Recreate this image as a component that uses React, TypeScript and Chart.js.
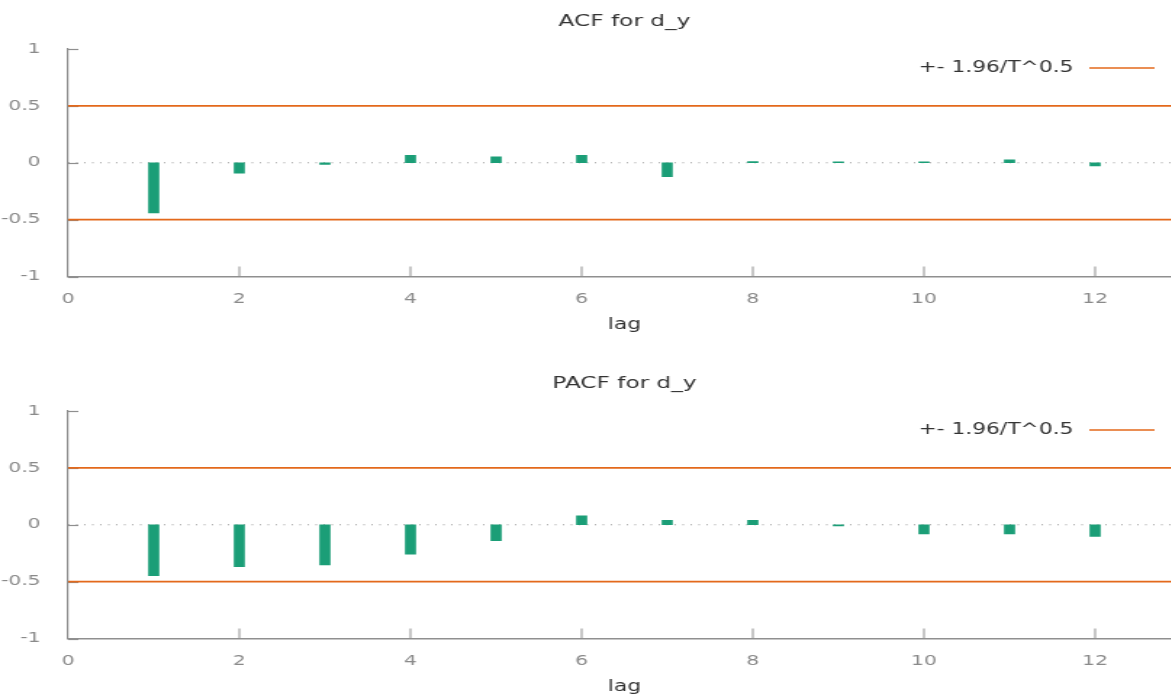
import React, { useEffect, useRef } from "react";
import { Chart, registerables } from "chart.js";

Chart.register(...registerables);

// ---- data ----
const lags = [1, 2, 3, 4, 5, 6, 7, 8, 9, 10, 11, 12];
const acfValues = [-0.44, -0.092, -0.015, 0.066, 0.051, 0.066, -0.122, 0.01, 0.008, 0.008, 0.025, -0.028];
const pacfValues = [-0.447, -0.368, -0.353, -0.259, -0.141, 0.079, 0.038, 0.038, -0.01, -0.08, -0.08, -0.103];
const bandX = [0, 13];
const bandUpper = [0.5, 0.5];
const bandLower = [-0.5, -0.5];
const zeroLine = [0, 0];
const xTicks = [0, 2, 4, 6, 8, 10, 12];
const yTicks = [-1, -0.5, 0, 0.5, 1];
const legendLabel = "+- 1.96/T^0.5";
const xLabel = "lag";
const acfTitle = "ACF for d_y";
const pacfTitle = "PACF for d_y";

// ---- style ----
const SX = 1.45; // horizontal stretch of the reference picture
const W = 828;
const H = 362;
const GREEN = "#1b9e77";
const ORANGE = "#e3691b";
const AXIS = "#8f8f8f";
const TICK_TEXT = "#8a8a8a";
const TEXT = "#333333";
const FONT = "'DejaVu Sans', Verdana, sans-serif";

function makeDecor(title: string) {
  return {
    id: "gretlDecor",
    beforeDatasetsDraw(chart: any) {
      const { ctx, chartArea, scales } = chart;
      const x = scales.x;
      const y = scales.y;
      ctx.save();
      ctx.strokeStyle = AXIS;
      ctx.lineWidth = 1.2;
      yTicks.forEach((v) => {
        const py = Math.round(y.getPixelForValue(v)) + 0.5;
        ctx.beginPath();
        ctx.moveTo(chartArea.left, py);
        ctx.lineTo(chartArea.left + 7, py);
        ctx.stroke();
      });
      ctx.lineWidth = 1;
      xTicks.forEach((v) => {
        if (v === 0) return;
        const px = x.getPixelForValue(v);
        ctx.beginPath();
        ctx.moveTo(px, chartArea.bottom);
        ctx.lineTo(px, chartArea.bottom - 10);
        ctx.stroke();
      });
      ctx.restore();
    },
    afterDraw(chart: any) {
      const { ctx, chartArea } = chart;
      ctx.save();
      ctx.fillStyle = TEXT;
      ctx.textBaseline = "middle";
      ctx.textAlign = "center";
      ctx.font = `16px ${FONT}`;
      ctx.fillText(title, (chartArea.left + chartArea.right) / 2, 22);
      ctx.font = `15px ${FONT}`;
      ctx.textAlign = "right";
      ctx.fillText(legendLabel, chartArea.right - 74, 68);
      ctx.strokeStyle = ORANGE;
      ctx.lineWidth = 1.6;
      ctx.beginPath();
      ctx.moveTo(chartArea.right - 63, 68);
      ctx.lineTo(chartArea.right - 18, 68);
      ctx.stroke();
      ctx.restore();
    },
  };
}

function CorrChart({ title, values, top }: { title: string; values: number[]; top: number }) {
  const ref = useRef<HTMLCanvasElement>(null);
  useEffect(() => {
    const canvas = ref.current;
    if (!canvas) return;
    const chart = new Chart(canvas, {
      type: "bar",
      data: {
        datasets: [
          {
            type: "line",
            data: bandX.map((x, i) => ({ x, y: zeroLine[i] })),
            borderColor: "#9a9a9a",
            borderWidth: 1,
            borderDash: [1, 4.5],
            pointRadius: 0,
            order: 3,
          },
          {
            type: "bar",
            data: lags.map((x, i) => ({ x, y: values[i] })),
            backgroundColor: GREEN,
            borderWidth: 0,
            barThickness: 7,
            grouped: false,
            order: 2,
          },
          {
            type: "line",
            data: bandX.map((x, i) => ({ x, y: bandUpper[i] })),
            borderColor: ORANGE,
            borderWidth: 1.6,
            pointRadius: 0,
            order: 1,
          },
          {
            type: "line",
            data: bandX.map((x, i) => ({ x, y: bandLower[i] })),
            borderColor: ORANGE,
            borderWidth: 1.6,
            pointRadius: 0,
            order: 1,
          },
        ],
      } as any,
      options: {
        responsive: false,
        animation: false,
        devicePixelRatio: 1,
        events: [],
        layout: { padding: { top: 49, right: 14, left: 0, bottom: 0 } },
        font: { family: FONT },
        plugins: {
          legend: { display: false },
          tooltip: { enabled: false },
          title: { display: false },
        },
        scales: {
          x: {
            type: "linear",
            offset: false,
            min: 0,
            max: 13,
            afterBuildTicks: (s: any) => {
              s.ticks = xTicks.map((v) => ({ value: v }));
            },
            afterFit: (s: any) => {
              s.height = 85.5;
            },
            grid: { display: false, offset: false },
            border: { display: true, color: AXIS, width: 1.5 },
            ticks: {
              color: TICK_TEXT,
              font: { size: 14, family: FONT },
              padding: 6,
              maxRotation: 0,
              autoSkip: false,
              callback: (v: any) => String(v),
            },
            title: {
              display: true,
              text: xLabel,
              color: TEXT,
              font: { size: 15, family: FONT },
              padding: { top: 0, bottom: 28 },
            },
          },
          y: {
            type: "linear",
            min: -1,
            max: 1,
            afterBuildTicks: (s: any) => {
              s.ticks = yTicks.map((v) => ({ value: v }));
            },
            afterFit: (s: any) => {
              s.width = 47;
            },
            grid: { display: false },
            border: { display: true, color: AXIS, width: 1.2 },
            ticks: {
              color: TICK_TEXT,
              font: { size: 14, family: FONT },
              padding: 11,
              callback: (v: any) => String(v),
            },
          },
        },
      } as any,
      plugins: [makeDecor(title)],
    });
    return () => chart.destroy();
  }, [title, values]);

  return (
    <canvas
      ref={ref}
      width={W}
      height={H}
      style={{
        position: "absolute",
        left: 0,
        top,
        width: `${W * SX}px`,
        height: `${H}px`,
      }}
    />
  );
}

export default function App() {
  return (
    <div
      style={{
        position: "absolute",
        left: 0,
        top: 0,
        width: 1171,
        height: 694,
        overflow: "hidden",
        background: "#ffffff",
      }}
    >
      <CorrChart title={acfTitle} values={acfValues} top={0} />
      <CorrChart title={pacfTitle} values={pacfValues} top={362} />
    </div>
  );
}
